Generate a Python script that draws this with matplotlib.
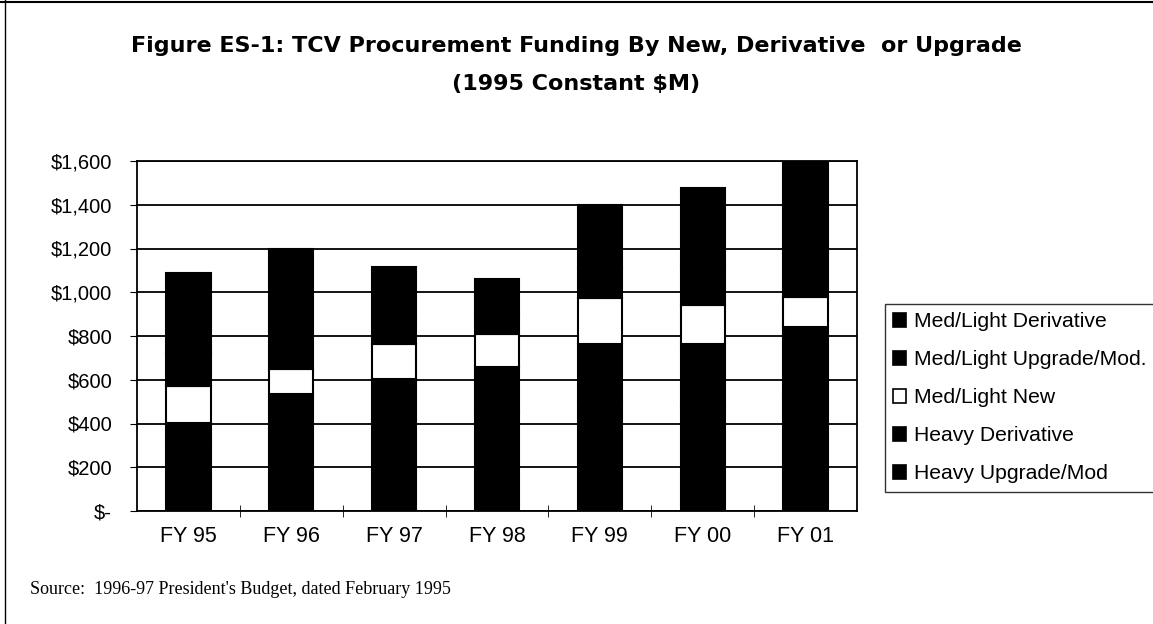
import matplotlib
matplotlib.use("Agg")
import matplotlib.pyplot as plt
from matplotlib.patches import Rectangle
from matplotlib.lines import Line2D
import numpy as np

years = ['FY 95', 'FY 96', 'FY 97', 'FY 98', 'FY 99', 'FY 00', 'FY 01']
# stacked bottom to top ($M, 1995 constant)
heavy_upgrade = [300, 380, 420, 450, 500, 480, 520]
heavy_deriv = [104, 153, 185, 210, 262, 282, 323]
ml_new = [167, 116, 158, 149, 210, 180, 137]
ml_upgrade = [150, 170, 120, 90, 140, 180, 200]
ml_deriv = [368, 379, 234, 160, 287, 356, 420]

series = [
    ('Heavy Upgrade/Mod', heavy_upgrade, 'black'),
    ('Heavy Derivative', heavy_deriv, 'black'),
    ('Med/Light New', ml_new, 'white'),
    ('Med/Light Upgrade/Mod.', ml_upgrade, 'black'),
    ('Med/Light Derivative', ml_deriv, 'black'),
]

plt.rcParams['font.family'] = ['Liberation Sans', 'DejaVu Sans']

fig = plt.figure(figsize=(11.53, 6.24), dpi=100)
ax = fig.add_axes([137/1153, 1-511/624, 720/1153, 350/624])

x = np.arange(len(years))
bottom = np.zeros(len(years))
for name, vals, col in series:
    ax.bar(x, vals, width=0.43, bottom=bottom, color=col,
           edgecolor='black', linewidth=1.5, zorder=3)
    bottom += np.array(vals)

ax.set_xlim(-0.5, 6.5)
ax.set_ylim(0, 1600)
ax.set_yticks(range(0, 1601, 200))
ax.set_yticklabels(['$-'] + ['${:,}'.format(v) for v in range(200, 1601, 200)],
                   fontsize=14.5)
ax.yaxis.grid(True, color='black', linewidth=1.3, zorder=0)
ax.set_xticks(x)
ax.set_xticklabels(years, fontsize=15.5)
ax.tick_params(axis='x', length=0, pad=11)
ax.set_xticks(np.arange(0.5, 6.5, 1), minor=True)
ax.tick_params(axis='x', which='minor', direction='inout', length=8, color='black')
ax.tick_params(axis='y', direction='out', length=5, pad=13)
for s in ax.spines.values():
    s.set_linewidth(1.3)
    s.set_color('black')

handles = [Rectangle((0, 0), 1, 1, facecolor=c, edgecolor='black', linewidth=1.2)
           for _, _, c in series][::-1]
labels = [n for n, _, _ in series][::-1]
leg = fig.legend(handles, labels, loc='upper left', bbox_to_anchor=(885/1153, 1-304/624),
                 fontsize=15.2, frameon=True, fancybox=False, edgecolor='black',
                 handlelength=0.6, handleheight=0.6, handletextpad=0.35,
                 labelspacing=0.9, borderpad=0.4, borderaxespad=0)
leg.get_frame().set_linewidth(1.0)

fig.text(0.5, 1-46/624, 'Figure ES-1: TCV Procurement Funding By New, Derivative  or Upgrade',
         ha='center', va='center', fontsize=16, fontweight='bold', family='DejaVu Sans')
fig.text(0.5, 1-84/624, '(1995 Constant $M)', ha='center', va='center',
         fontsize=16, fontweight='bold', family='DejaVu Sans')
fig.text(30/1153, 1-590/624, "Source:  1996-97 President's Budget, dated February 1995",
         ha='left', va='center', fontsize=13, family='Liberation Serif')

fig.add_artist(Line2D([5/1153, 5/1153], [0, 1], color='black', linewidth=1))
fig.add_artist(Line2D([0, 1], [1-2/624, 1-2/624], color='black', linewidth=1.5))

fig.savefig('out.png', dpi=100)
